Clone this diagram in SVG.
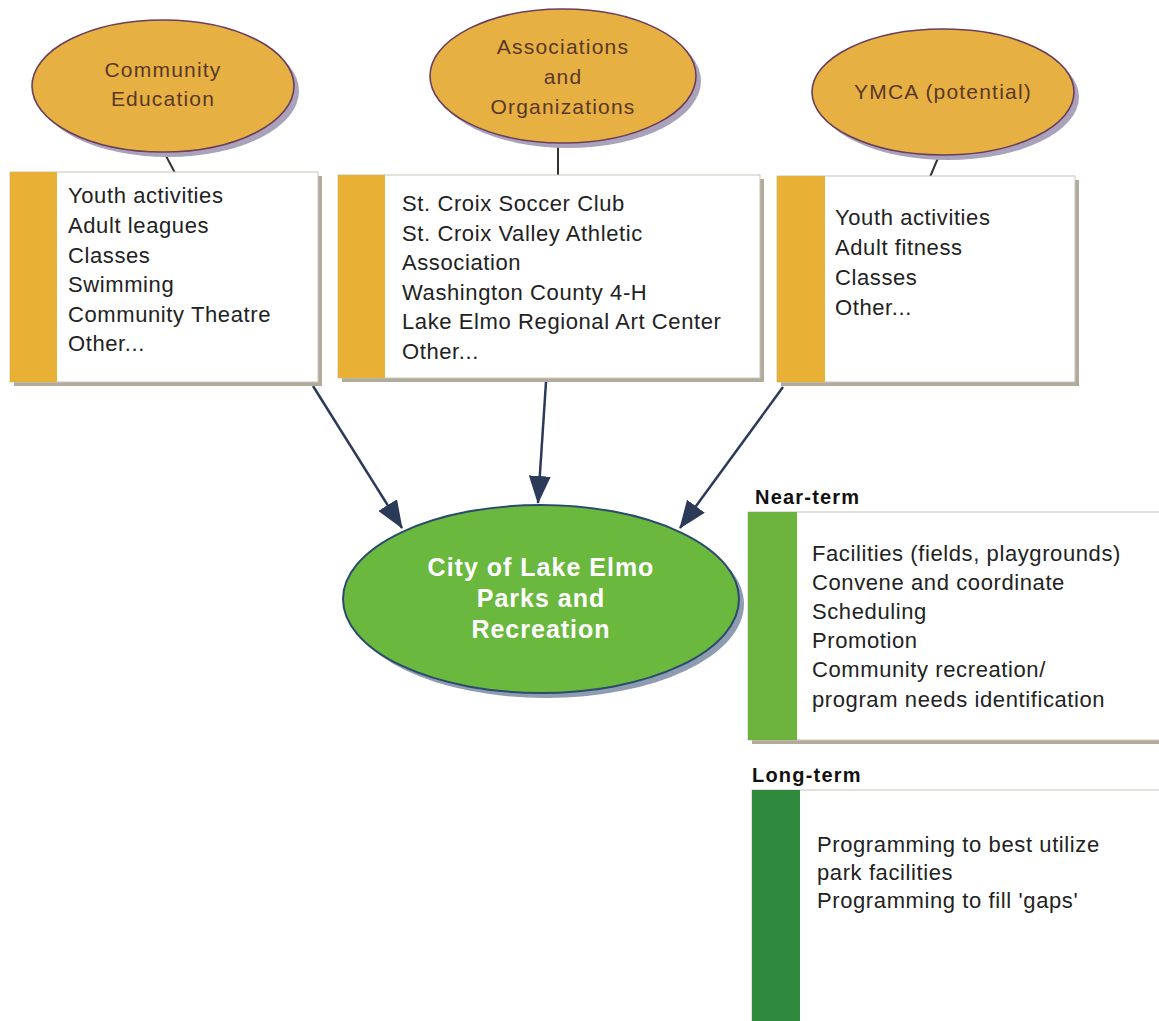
<svg xmlns="http://www.w3.org/2000/svg" width="1159" height="1021" viewBox="0 0 1159 1021">
<defs>
<style>
.ell{fill:#e6b043;stroke:#6b3d5c;stroke-width:1.6}
.esh{fill:#aaa2bb}
.etx{font-family:"Liberation Sans",Arial,sans-serif;font-size:21px;letter-spacing:1.2px;fill:#5a3826;text-anchor:middle}
.box{fill:#ffffff;stroke:#c8c4b8;stroke-width:1}
.bsh{fill:#b2aa9a}
.band-o{fill:#e8b035}
.band-g{fill:#6cb43e}
.band-d{fill:#2f8a3d}
.btx{font-family:"Liberation Sans",Arial,sans-serif;font-size:22px;letter-spacing:0.6px;fill:#222222}
.lbl{font-family:"Liberation Sans",Arial,sans-serif;font-size:20px;letter-spacing:1.2px;font-weight:bold;fill:#111111}
.gtx{font-family:"Liberation Sans",Arial,sans-serif;font-size:25px;letter-spacing:1px;font-weight:bold;fill:#ffffff;text-anchor:middle}
.conn{stroke:#2a3a58;stroke-width:2.5;fill:none}
.tick{stroke:#333333;stroke-width:2;fill:none}
</style>
<marker id="ah" markerUnits="userSpaceOnUse" viewBox="0 0 28 22" refX="27" refY="11" markerWidth="28" markerHeight="22" orient="auto">
<path d="M0,0 L28,11 L0,22 Z" fill="#2a3a58"/>
</marker>
</defs>

<g id="connectors">
<line class="tick" x1="165" y1="154" x2="175" y2="173"/>
<line class="tick" x1="558" y1="143" x2="558" y2="176"/>
<line class="tick" x1="938" y1="158" x2="930" y2="177"/>
<line class="conn" x1="313" y1="386" x2="402" y2="528" marker-end="url(#ah)"/>
<line class="conn" x1="546" y1="382" x2="538" y2="503" marker-end="url(#ah)"/>
<line class="conn" x1="783" y1="387" x2="680" y2="528" marker-end="url(#ah)"/>
</g>

<g id="node-community-education">
<ellipse class="esh" cx="168" cy="91" rx="131" ry="66"/>
<ellipse class="ell" cx="163" cy="86" rx="131" ry="66"/>
<text class="etx" x="163" y="77">Community</text>
<text class="etx" x="163" y="106">Education</text>
</g>

<g id="node-community-list">
<rect class="bsh" x="14" y="176" width="308" height="210"/>
<rect class="box" x="10" y="172" width="308" height="210"/>
<rect class="band-o" x="10" y="172" width="47" height="210"/>
<text class="btx" x="68" y="203">Youth activities</text>
<text class="btx" x="68" y="233">Adult leagues</text>
<text class="btx" x="68" y="263">Classes</text>
<text class="btx" x="68" y="292">Swimming</text>
<text class="btx" x="68" y="322">Community Theatre</text>
<text class="btx" x="68" y="351">Other...</text>
</g>

<g id="node-associations">
<ellipse class="esh" cx="568" cy="81" rx="133" ry="67"/>
<ellipse class="ell" cx="563" cy="76" rx="133" ry="67"/>
<text class="etx" x="563" y="54">Associations</text>
<text class="etx" x="563" y="84">and</text>
<text class="etx" x="563" y="114">Organizations</text>
</g>

<g id="node-associations-list">
<rect class="bsh" x="342" y="179" width="422" height="203"/>
<rect class="box" x="338" y="175" width="422" height="203"/>
<rect class="band-o" x="338" y="175" width="47" height="203"/>
<text class="btx" x="402" y="211">St. Croix Soccer Club</text>
<text class="btx" x="402" y="241">St. Croix Valley Athletic</text>
<text class="btx" x="402" y="270">Association</text>
<text class="btx" x="402" y="300">Washington County 4-H</text>
<text class="btx" x="402" y="329">Lake Elmo Regional Art Center</text>
<text class="btx" x="402" y="359">Other...</text>
</g>

<g id="node-ymca">
<ellipse class="esh" cx="948" cy="97" rx="131" ry="63"/>
<ellipse class="ell" cx="943" cy="92" rx="131" ry="63"/>
<text class="etx" x="943" y="99">YMCA (potential)</text>
</g>

<g id="node-ymca-list">
<rect class="bsh" x="781" y="180" width="298" height="206"/>
<rect class="box" x="777" y="176" width="298" height="206"/>
<rect class="band-o" x="777" y="176" width="48" height="206"/>
<text class="btx" x="835" y="225">Youth activities</text>
<text class="btx" x="835" y="255">Adult fitness</text>
<text class="btx" x="835" y="285">Classes</text>
<text class="btx" x="835" y="315">Other...</text>
</g>

<g id="node-city">
<ellipse cx="546" cy="604" rx="198" ry="94" fill="#8e9cb2"/>
<ellipse cx="541" cy="599" rx="198" ry="94" fill="#6bb83f" stroke="#2b4a6c" stroke-width="2"/>
<text class="gtx" x="541" y="576">City of Lake Elmo</text>
<text class="gtx" x="541" y="607">Parks and</text>
<text class="gtx" x="541" y="638">Recreation</text>
</g>

<g id="node-near-term">
<text class="lbl" x="755" y="504">Near-term</text>
<rect class="bsh" x="752" y="516" width="420" height="228"/>
<rect class="box" x="748" y="512" width="420" height="228"/>
<rect class="band-g" x="748" y="512" width="49" height="228"/>
<text class="btx" x="812" y="561">Facilities (fields, playgrounds)</text>
<text class="btx" x="812" y="590">Convene and coordinate</text>
<text class="btx" x="812" y="619">Scheduling</text>
<text class="btx" x="812" y="648">Promotion</text>
<text class="btx" x="812" y="677">Community recreation/</text>
<text class="btx" x="812" y="707">program needs identification</text>
</g>

<g id="node-long-term">
<text class="lbl" x="752" y="782">Long-term</text>
<rect class="bsh" x="756" y="794" width="420" height="240"/>
<rect class="box" x="752" y="790" width="420" height="240"/>
<rect class="band-d" x="752" y="790" width="48" height="240"/>
<text class="btx" x="817" y="852">Programming to best utilize</text>
<text class="btx" x="817" y="880">park facilities</text>
<text class="btx" x="817" y="908">Programming to fill 'gaps'</text>
</g>
</svg>
